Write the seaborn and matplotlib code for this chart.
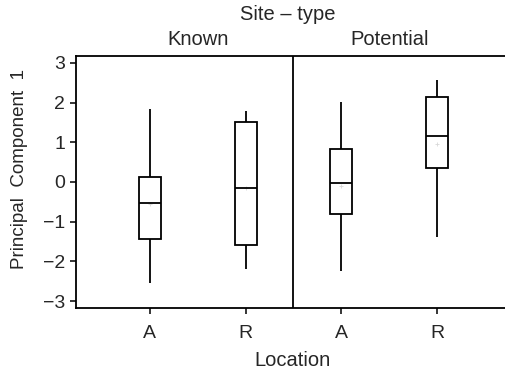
import pandas as pd
import matplotlib
matplotlib.use("Agg")
import matplotlib.pyplot as plt
import seaborn as sns

# Box summaries: min, Q1, median, Q3, max
site_types = ["Known", "Known", "Potential", "Potential"]
locations = ["A", "R", "A", "R"]
whisker_low = [-2.55, -2.18, -2.25, -1.38]
q1 = [-1.43, -1.60, -0.80, 0.35]
median = [-0.53, -0.15, -0.03, 1.15]
q3 = [0.12, 1.50, 0.82, 2.15]
whisker_high = [1.83, 1.80, 2.02, 2.57]
means = [-0.55, -0.15, -0.10, 0.95]

sns.set_style("white")
plt.rcParams["font.family"] = ["Liberation Sans", "DejaVu Sans"]

rows = []
for i in range(4):
    group = f"{site_types[i]} {locations[i]}"
    for v in [whisker_low[i], q1[i], median[i], q3[i], whisker_high[i]]:
        rows.append({"group": group, "value": v})
df = pd.DataFrame(rows)
order = [f"{s} {l}" for s, l in zip(site_types, locations)]

fig = plt.figure(figsize=(5.06, 3.77), dpi=100)
ax = fig.add_axes([76 / 506, 1 - 308 / 377, 434 / 506, 252 / 377])

lw = 1.3
line = dict(color="black", linewidth=lw)
sns.boxplot(data=df, x="group", y="value", order=order, whis=(0, 100),
            width=0.23, color="white", linewidth=lw, linecolor="black",
            boxprops=dict(edgecolor="black", linewidth=lw),
            whiskerprops=line,
            medianprops=dict(color="black", linewidth=lw, zorder=10),
            capprops=dict(linewidth=0),
            showfliers=False, ax=ax)

# faint mean markers
ax.scatter(range(4), means, marker="+", s=12, color="#d8d8d8", linewidths=0.6, zorder=5)

ax.axvline(1.5, color="black", linewidth=lw)
ax.set_xlim(-0.77, 3.76)
ax.set_ylim(-3.175, 3.175)
ax.set_yticks([-3, -2, -1, 0, 1, 2, 3])
ax.set_yticklabels(["\u22123", "\u22122", "\u22121", "0", "1", "2", "3"])
ax.set_xticks(range(4))
ax.set_xticklabels(locations)
ax.tick_params(axis="both", direction="out", length=4, width=1.1,
               labelsize=14, color="black", pad=4, bottom=True, left=True)
ax.tick_params(axis="x", pad=8)
for s in ax.spines.values():
    s.set_color("black")
    s.set_linewidth(lw)
ax.spines["right"].set_visible(False)

ax.set_xlabel("Location", fontsize=14.5, labelpad=7)
ax.set_ylabel("")
fig.text(20 / 506, 1 - 169 / 377, "Principal  Component  1", rotation=90,
         ha="center", va="center", fontsize=13.5)

ax.text(0.5, 3.175 + 0.42, "Known", ha="center", va="center", fontsize=14.5)
ax.text(2.5, 3.175 + 0.42, "Potential", ha="center", va="center", fontsize=14.5)
fig.text(288 / 506, 1 - 14 / 377, "Site \u2013 type", ha="center", va="center", fontsize=14.5)

fig.savefig("out.png", dpi=100)
